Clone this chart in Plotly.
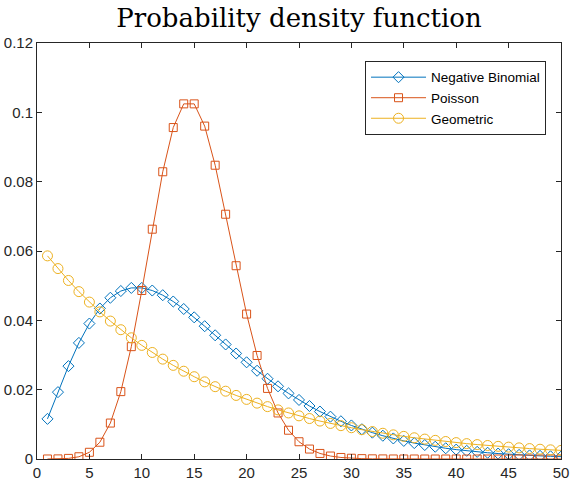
import plotly.graph_objects as go

x_vals = list(range(1, 51))

neg_binomial = [
    0.011574, 0.019290, 0.026792, 0.033490, 0.039072, 0.043413, 0.046514, 0.048452, 0.049349, 0.049349,
    0.048601, 0.047251, 0.045434, 0.043271, 0.040866, 0.038312, 0.035683, 0.033040, 0.030432, 0.027895,
    0.025460, 0.023146, 0.020965, 0.018927, 0.017035, 0.015288, 0.013684, 0.012216, 0.010882, 0.009674,
    0.008582, 0.007600, 0.006716, 0.005927, 0.005220, 0.004592, 0.004034, 0.003539, 0.003098, 0.002711,
    0.002370, 0.002067, 0.001806, 0.001572, 0.001366, 0.001191, 0.001034, 0.000896, 0.000779, 0.000675,
]

poisson = [
    0.0000046, 0.0000344, 0.000172, 0.000645, 0.001936, 0.004839, 0.01037, 0.01944, 0.03241, 0.04861,
    0.06629, 0.08286, 0.09561, 0.10244, 0.10244, 0.09603, 0.08474, 0.07061, 0.05575, 0.04181,
    0.02986, 0.02036, 0.01328, 0.00830, 0.00498, 0.00287, 0.00160, 0.000855, 0.000442, 0.000221,
    0.000107, 0.000050, 0.000023, 0.000010, 0.0000043, 0.0000018, 0.0000007, 0.0000003, 0.0000001, 0.0,
    0.0, 0.0, 0.0, 0.0, 0.0, 0.0, 0.0, 0.0, 0.0, 0.0,
]

geometric = [
    0.058594, 0.054932, 0.051498, 0.048280, 0.045262, 0.042433, 0.039781, 0.037295, 0.034964, 0.032779,
    0.030730, 0.028810, 0.027009, 0.025321, 0.023738, 0.022255, 0.020864, 0.019560, 0.018337, 0.017191,
    0.016117, 0.015109, 0.014165, 0.013280, 0.012450, 0.011672, 0.010942, 0.010258, 0.009617, 0.009016,
    0.008453, 0.007924, 0.007429, 0.006965, 0.006529, 0.006121, 0.005739, 0.005380, 0.005044, 0.004729,
    0.004433, 0.004156, 0.003896, 0.003653, 0.003424, 0.003210, 0.003010, 0.002822, 0.002645, 0.002480,
]

x_ticks = [0, 5, 10, 15, 20, 25, 30, 35, 40, 45, 50]
y_ticks = [0, 0.02, 0.04, 0.06, 0.08, 0.1, 0.12]
y_tick_text = ["0", "0.02", "0.04", "0.06", "0.08", "0.1", "0.12"]

fig = go.Figure()
fig.add_trace(go.Scatter(
    x=x_vals, y=neg_binomial, name="Negative Binomial", mode="lines+markers",
    line=dict(color="#0072BD", width=1),
    marker=dict(symbol="diamond-open", size=8.5, color="#0072BD", line=dict(width=1, color="#0072BD")),
))
fig.add_trace(go.Scatter(
    x=x_vals, y=poisson, name="Poisson", mode="lines+markers",
    line=dict(color="#D95319", width=1),
    marker=dict(symbol="square-open", size=8, color="#D95319", line=dict(width=1, color="#D95319")),
))
fig.add_trace(go.Scatter(
    x=x_vals, y=geometric, name="Geometric", mode="lines+markers",
    line=dict(color="#EDB120", width=1),
    marker=dict(symbol="circle-open", size=10, color="#EDB120", line=dict(width=1, color="#EDB120")),
))

axis_common = dict(
    showgrid=False, zeroline=False, showline=True, linecolor="#262626", linewidth=1,
    mirror="ticks", ticks="inside", ticklen=5, tickcolor="#262626", tickwidth=1,
    tickfont=dict(family="Liberation Sans, Arial, sans-serif", size=15, color="#262626"),
    ticklabeloverflow="allow",
)

fig.update_layout(
    width=571, height=489,
    margin=dict(l=37, r=2, t=43, b=30),
    paper_bgcolor="white", plot_bgcolor="white",
    title=dict(
        text="Probability density function",
        font=dict(family="DejaVu Serif, serif", size=26, color="black"),
        x=0.5, xref="paper", xanchor="center",
        y=1 - 18 / 489, yref="container", yanchor="middle",
    ),
    xaxis=dict(range=[0, 50], tickvals=x_ticks, **axis_common),
    yaxis=dict(range=[0, 0.12], tickvals=y_ticks, ticktext=y_tick_text, **axis_common),
    legend=dict(
        x=0.626, y=0.957, xanchor="left", yanchor="top",
        bgcolor="white", bordercolor="#262626", borderwidth=1,
        font=dict(family="Liberation Sans, Arial, sans-serif", size=13.5, color="black"),
        tracegroupgap=0, itemwidth=55,
    ),
    showlegend=True,
)

fig.write_html("out.html")
